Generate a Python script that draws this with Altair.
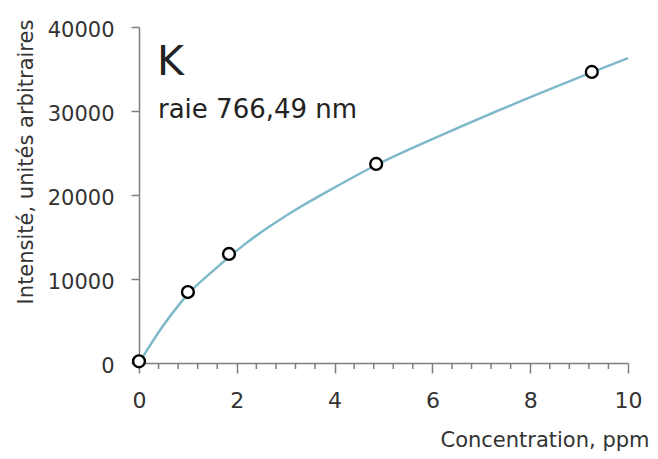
import altair as alt
import pandas as pd

# measured calibration points
conc = [0, 1.0, 1.84, 4.85, 9.26]
intens = [200, 8450, 12980, 23700, 34650]

# fitted curve
curve_x = [0, 0.16, 0.5, 0.84, 1.0, 1.52, 2.2, 3.22, 3.91, 4.86, 6.29, 7.65, 9.26, 10]
curve_y = [0, 1500, 4500, 7100, 8200, 11000, 14300, 18300, 20600, 23600, 27400, 30800, 34600, 36300]

x_ticks = [0, 2, 4, 6, 8, 10]
minor_ticks = [0.4, 0.8, 1.2, 1.6, 2.4, 2.8, 3.2, 3.6, 4.4, 4.8, 5.2, 5.6,
               6.4, 6.8, 7.2, 7.6, 8.4, 8.8, 9.2, 9.6]
y_ticks = [0, 10000, 20000, 30000, 40000]

element = ["K"]
line_label = ["raie 766,49 nm"]
x_title = "Concentration, ppm"
y_title = "Intensité, unités arbitraires"

FONT = "DejaVu Sans"
AXIS_GREY = "#7f7f7f"
TEXT = "#333333"
W, H = 489, 336

x_scale = alt.Scale(domain=[0, 10], nice=False)
y_scale = alt.Scale(domain=[0, 40000], nice=False)

x_axis = alt.Axis(
    values=x_ticks, format="d", grid=False, labelFlush=False,
    domainColor=AXIS_GREY, domainWidth=1.5,
    tickColor=AXIS_GREY, tickWidth=1.5, tickSize=10,
    labelFont=FONT, labelFontSize=22, labelColor=TEXT,
    labelBaseline="alphabetic", labelPadding=34,
    title=x_title, titleFont=FONT, titleFontSize=21, titleFontWeight="normal",
    titleColor=TEXT, titleX=510, titleY=83, titleAlign="right",
    titleBaseline="alphabetic",
)
y_axis = alt.Axis(
    values=y_ticks, format="d", grid=False, labelFlush=False,
    domainColor=AXIS_GREY, domainWidth=1.5,
    tickColor=AXIS_GREY, tickWidth=1.5, tickSize=8,
    labelFont=FONT, labelFontSize=21, labelColor=TEXT,
    labelBaseline="middle", labelPadding=17, labelOffset=3,
    title=y_title, titleFont=FONT, titleFontSize=21, titleFontWeight="normal",
    titleColor=TEXT, titleAngle=270, titleX=-107, titleY=134.5,
    titleAlign="center", titleBaseline="alphabetic",
)

curve_df = pd.DataFrame({"x": curve_x, "y": curve_y})
pts_df = pd.DataFrame({"x": conc, "y": intens})
minor_df = pd.DataFrame({"t": minor_ticks})

curve = alt.Chart(curve_df).mark_line(
    color="#7fb9c9", strokeWidth=2.5, interpolate="monotone"
).encode(
    x=alt.X("x:Q", scale=x_scale, axis=x_axis),
    y=alt.Y("y:Q", scale=y_scale, axis=y_axis),
)

minor = alt.Chart(minor_df).mark_rule(color=AXIS_GREY, strokeWidth=1.5).encode(
    x=alt.X("t:Q", scale=x_scale),
    y=alt.value(H),
    y2=alt.value(H + 6),
)

points = alt.Chart(pts_df).mark_point(
    shape="circle", filled=True, fill="white", stroke="black",
    strokeWidth=2.4, size=140, opacity=1
).encode(
    x=alt.X("x:Q", scale=x_scale),
    y=alt.Y("y:Q", scale=y_scale),
)

k_text = alt.Chart(pd.DataFrame({"t": element})).mark_text(
    font=FONT, fontSize=41, color="#222222", align="left", baseline="alphabetic"
).encode(text="t:N", x=alt.value(18), y=alt.value(48))

raie_text = alt.Chart(pd.DataFrame({"t": line_label})).mark_text(
    font=FONT, fontSize=26, color="#222222", align="left", baseline="alphabetic"
).encode(text="t:N", x=alt.value(19), y=alt.value(91))

chart = alt.layer(minor, curve, points, k_text, raie_text).properties(
    width=W, height=H,
    autosize=alt.AutoSizeParams(type="none"),
    padding={"left": 131, "top": 19, "right": 22, "bottom": 88},
).configure_view(stroke=None)

chart.save("out.html", embed_options={"renderer": "svg", "actions": False})
